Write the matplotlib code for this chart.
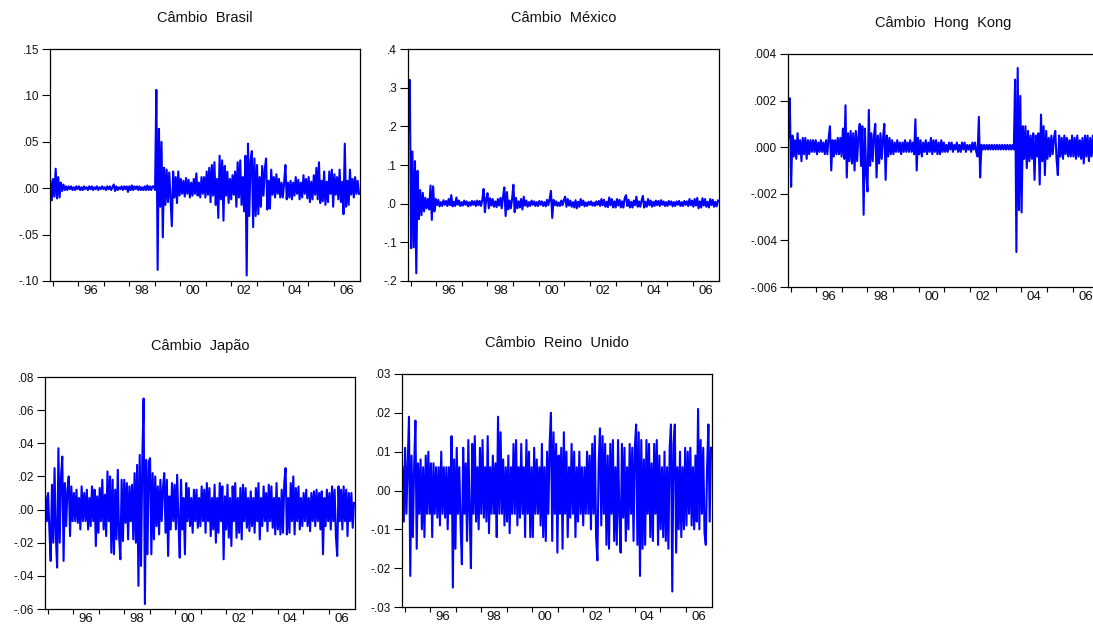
import numpy as np
import matplotlib.pyplot as plt

plt.rcParams["font.family"] = ["Liberation Sans", "DejaVu Sans"]

# daily exchange-rate returns, ~20 obs per year, end of 1994 to end of 2006
cambio_brasil = [
    0.008, -0.013, 0.010, -0.009, 0.021, -0.011, 0.012, -0.010, 0.006, -0.003, 0.004, -0.002, 0.002, -0.002, 0.002, -0.001, 0.002, -0.002, 0.001, -0.002,
    0.002, -0.001, 0.002, -0.002, 0.001, -0.002, 0.002, -0.001, 0.001, -0.002, 0.002, -0.001, 0.002, -0.002, 0.001, -0.001, 0.002, -0.002, 0.001, -0.001,
    0.002, -0.001, 0.001, -0.002, 0.002, -0.001, 0.002, -0.002, 0.001, 0.004, -0.003, 0.002, -0.002, 0.001, -0.001, 0.002, -0.002, 0.002, -0.001, 0.002,
    -0.004, 0.002, -0.002, 0.003, -0.002, 0.002, -0.001, 0.002, -0.002, 0.002, -0.002, 0.001, -0.002, 0.002, -0.002, 0.003, -0.002, 0.002, -0.002, 0.002,
    0.002, -0.002, 0.106, -0.088, 0.064, -0.020, 0.050, -0.053, 0.022, -0.018, 0.020, -0.015, 0.017, -0.012, -0.041, 0.018, -0.010, 0.012, -0.016, 0.018,
    -0.008, 0.010, -0.006, 0.008, -0.009, 0.011, -0.006, 0.009, -0.010, 0.006, -0.008, 0.010, -0.006, 0.016, -0.008, 0.006, -0.010, 0.012, -0.006, 0.012,
    -0.010, 0.018, -0.007, 0.022, -0.015, 0.025, -0.008, 0.028, -0.018, 0.010, -0.032, 0.035, -0.012, 0.030, -0.035, 0.024, -0.008, 0.018, -0.016, 0.010,
    -0.012, 0.014, -0.007, 0.018, -0.020, 0.028, -0.010, 0.030, -0.018, 0.012, -0.025, 0.035, -0.094, 0.048, -0.030, 0.030, 0.040, -0.042, 0.032, -0.030,
    0.025, -0.028, 0.012, -0.020, 0.024, -0.008, 0.020, 0.032, -0.023, 0.008, -0.022, 0.020, -0.007, 0.012, -0.010, 0.015, -0.006, 0.010, -0.010, 0.006,
    -0.010, 0.006, 0.025, -0.012, 0.006, -0.010, 0.008, -0.012, 0.006, -0.008, 0.012, -0.006, 0.009, -0.012, 0.006, -0.010, 0.014, -0.006, 0.010, -0.011,
    0.012, -0.015, 0.007, -0.012, 0.014, -0.007, 0.022, -0.012, 0.028, -0.016, 0.008, -0.014, 0.018, -0.018, 0.007, -0.015, 0.018, -0.006, 0.020, -0.020,
    0.015, -0.007, 0.012, -0.012, 0.020, -0.015, 0.007, -0.028, 0.048, -0.020, 0.008, -0.018, 0.020, -0.007, 0.010, -0.010, 0.012, -0.006, 0.008, -0.006,
]

cambio_mexico = [
    0.190, 0.320, -0.115, 0.135, -0.113, 0.110, -0.180, 0.085, -0.040, 0.035, -0.030, 0.028, -0.020, 0.015, -0.012, 0.012, -0.015, 0.047, -0.042, 0.045,
    -0.020, 0.012, -0.004, 0.010, -0.007, 0.004, -0.006, 0.009, -0.003, 0.007, -0.006, 0.012, -0.004, 0.022, -0.007, 0.005, -0.006, 0.016, -0.003, 0.008,
    -0.006, 0.004, -0.005, 0.008, -0.003, 0.006, -0.007, 0.004, -0.005, 0.007, -0.003, 0.006, -0.006, 0.008, -0.004, 0.007, -0.006, 0.010, 0.038, -0.022,
    0.012, 0.027, -0.012, 0.014, -0.005, 0.012, -0.008, 0.006, -0.009, 0.012, -0.005, 0.015, -0.012, 0.018, 0.042, -0.032, 0.030, -0.015, 0.008, -0.012,
    0.012, 0.049, -0.022, 0.015, -0.012, 0.006, -0.010, 0.012, -0.015, 0.018, -0.005, 0.008, -0.008, 0.004, -0.006, 0.008, -0.003, 0.006, -0.006, 0.004,
    -0.006, 0.007, -0.003, 0.006, -0.006, 0.004, -0.007, 0.010, -0.004, 0.012, 0.033, -0.037, 0.010, -0.004, 0.006, -0.006, 0.003, -0.006, 0.008, -0.004,
    0.010, 0.018, -0.008, 0.012, -0.005, 0.008, -0.008, 0.004, -0.010, 0.009, -0.012, 0.005, -0.008, 0.012, -0.004, 0.008, -0.007, 0.003, -0.006, 0.005,
    -0.003, 0.006, -0.005, 0.003, -0.006, 0.006, -0.003, 0.007, -0.006, 0.012, -0.004, 0.010, -0.008, 0.005, -0.009, 0.016, -0.004, 0.012, -0.010, 0.006,
    -0.010, 0.012, -0.005, 0.010, -0.010, 0.006, -0.010, 0.015, 0.022, -0.006, 0.010, -0.010, 0.005, -0.010, 0.008, -0.004, 0.018, -0.008, 0.006, -0.008,
    0.008, 0.020, -0.010, 0.005, -0.008, 0.012, -0.004, 0.008, -0.008, 0.005, -0.006, 0.008, -0.004, 0.007, -0.006, 0.009, -0.003, 0.006, -0.006, 0.004,
    -0.006, 0.007, -0.003, 0.006, -0.007, 0.004, -0.006, 0.006, -0.003, 0.007, -0.006, 0.004, -0.006, 0.007, -0.003, 0.006, -0.006, 0.012, -0.004, 0.008,
    -0.008, 0.012, -0.005, 0.015, -0.012, 0.006, -0.010, 0.014, -0.005, 0.012, -0.008, 0.005, -0.010, 0.012, -0.004, 0.010, -0.008, 0.005, -0.007, 0.008,
]

cambio_hong_kong = [
    0.0004, 0.0021, -0.0017, 0.0005, -0.0004, 0.0003, -0.0005, 0.0006, -0.0003, 0.0003, -0.0006, 0.0004, -0.0003, 0.0004, -0.0005, 0.0003, -0.0003, 0.0003, -0.0002, 0.0003,
    -0.0002, 0.0003, -0.0003, 0.0002, -0.0002, 0.0003, -0.0002, 0.0002, -0.0003, 0.0003, -0.0003, 0.0004, 0.0009, -0.0010, 0.0003, -0.0004, 0.0003, -0.0003, 0.0004, -0.0003,
    0.0004, -0.0004, 0.0008, -0.0005, 0.0018, -0.0013, 0.0006, -0.0006, 0.0007, -0.0007, 0.0006, -0.0010, 0.0007, -0.0006, 0.0005, 0.0010, -0.0008, 0.0009, -0.0029, 0.0008,
    -0.0011, -0.0019, 0.0016, -0.0008, 0.0006, -0.0006, 0.0005, 0.0010, -0.0013, 0.0005, -0.0007, 0.0006, -0.0005, 0.0004, 0.0010, -0.0014, 0.0005, -0.0004, 0.0004, -0.0003,
    0.0003, -0.0003, 0.0002, -0.0002, 0.0003, -0.0002, 0.0002, -0.0003, 0.0002, -0.0002, 0.0003, -0.0002, 0.0002, -0.0002, 0.0003, -0.0002, 0.0002, -0.0003, 0.0012, -0.0010,
    0.0004, -0.0003, 0.0003, -0.0004, 0.0002, -0.0002, 0.0003, -0.0003, 0.0002, -0.0002, 0.0004, -0.0003, 0.0003, -0.0002, 0.0003, -0.0003, 0.0002, -0.0003, 0.0003, -0.0002,
    0.0002, -0.0002, 0.0001, -0.0002, 0.0002, -0.0001, 0.0002, -0.0002, 0.0001, -0.0001, 0.0002, -0.0002, 0.0001, -0.0002, 0.0002, -0.0001, 0.0002, -0.0002, 0.0001, -0.0001,
    0.0001, -0.0002, 0.0002, -0.0001, 0.0002, -0.0002, -0.0004, 0.0013, -0.0013, 0.0001, -0.0001, 0.0001, -0.0001, 0.0001, -0.0001, 0.0001, -0.0001, 0.0001, -0.0001, 0.0001,
    -0.0001, 0.0001, -0.0001, 0.0001, -0.0001, 0.0001, -0.0001, 0.0001, -0.0001, 0.0001, -0.0001, 0.0001, -0.0001, 0.0001, -0.0001, 0.0029, -0.0045, 0.0034, -0.0027, 0.0022,
    -0.0028, 0.0009, -0.0005, 0.0009, -0.0009, 0.0007, -0.0006, 0.0005, -0.0005, 0.0006, -0.0014, 0.0005, -0.0004, 0.0006, -0.0016, 0.0014, -0.0006, 0.0009, -0.0012, 0.0007,
    -0.0005, 0.0004, -0.0004, 0.0005, -0.0003, 0.0004, 0.0007, -0.0005, -0.0012, 0.0005, -0.0004, 0.0004, -0.0005, 0.0005, -0.0003, 0.0004, -0.0004, 0.0003, -0.0004, 0.0005,
    -0.0004, 0.0004, -0.0005, 0.0005, -0.0004, 0.0003, -0.0005, 0.0004, -0.0007, 0.0005, -0.0004, 0.0005, -0.0006, 0.0004, -0.0004, 0.0005, -0.0005, 0.0004, -0.0007, 0.0005,
]

cambio_japao = [
    0.008, -0.007, 0.010, -0.012, -0.031, 0.015, -0.020, 0.025, -0.016, -0.035, 0.037, -0.020, 0.020, 0.032, -0.031, 0.016, -0.010, 0.012, 0.020, -0.016,
    0.014, -0.007, 0.010, -0.007, 0.012, -0.008, 0.007, -0.012, 0.014, -0.007, 0.010, -0.007, 0.012, -0.012, 0.007, -0.010, 0.014, -0.007, 0.012, -0.022,
    0.008, -0.014, 0.013, -0.007, 0.018, -0.012, 0.009, -0.016, 0.023, -0.007, 0.020, -0.026, 0.018, -0.027, 0.012, -0.018, 0.024, -0.016, -0.030, 0.018,
    -0.019, 0.018, -0.008, 0.016, -0.018, 0.014, -0.007, 0.015, -0.018, 0.022, -0.020, 0.027, -0.046, 0.033, -0.034, 0.030, 0.067, -0.057, 0.030, -0.027,
    0.029, 0.031, -0.027, 0.022, -0.018, 0.020, -0.010, 0.014, -0.015, 0.018, -0.007, 0.013, 0.022, -0.014, 0.018, -0.028, 0.008, -0.012, 0.016, -0.007,
    0.015, -0.012, 0.021, -0.007, -0.029, 0.018, -0.012, 0.007, -0.027, 0.016, -0.007, 0.013, -0.010, 0.007, -0.014, 0.012, -0.007, 0.012, -0.011, 0.007,
    -0.010, 0.014, -0.007, 0.012, -0.014, 0.016, -0.007, 0.013, -0.016, 0.007, -0.012, 0.015, -0.020, 0.007, -0.014, 0.016, -0.007, 0.014, -0.030, 0.008,
    -0.012, 0.015, -0.017, 0.007, -0.022, 0.014, -0.007, 0.016, -0.017, 0.007, -0.014, 0.013, -0.018, 0.015, -0.007, 0.013, -0.011, 0.007, -0.013, 0.011,
    -0.010, 0.007, -0.014, 0.013, -0.007, 0.016, -0.018, 0.007, -0.010, 0.014, -0.007, 0.010, -0.013, 0.015, -0.007, 0.014, -0.011, 0.007, -0.015, 0.016,
    -0.012, 0.007, -0.015, 0.012, -0.014, 0.016, 0.025, -0.015, 0.007, -0.014, 0.016, -0.007, 0.020, -0.015, 0.013, -0.007, 0.014, -0.012, 0.007, -0.010,
    0.010, -0.007, 0.012, -0.010, 0.007, -0.013, 0.010, -0.007, 0.011, -0.010, 0.012, -0.007, 0.010, -0.012, 0.011, -0.027, 0.007, -0.010, 0.012, -0.007,
    0.010, -0.012, 0.014, -0.007, 0.012, -0.016, -0.028, 0.014, -0.007, 0.012, -0.012, 0.014, -0.007, 0.012, -0.016, 0.010, -0.007, 0.010, -0.011, 0.004,
]

cambio_reino_unido = [
    0.006, -0.008, 0.011, -0.006, 0.007, 0.019, -0.022, 0.009, -0.012, 0.006, 0.018, -0.015, 0.007, -0.006, 0.008, -0.010, 0.006, -0.012, 0.009, -0.006,
    0.010, -0.006, 0.007, -0.012, 0.007, -0.006, 0.006, -0.007, 0.006, -0.009, 0.010, -0.006, 0.006, -0.007, 0.006, -0.010, 0.006, -0.006, 0.014, -0.025,
    0.008, -0.015, 0.011, -0.006, 0.006, -0.009, -0.019, 0.011, -0.006, 0.007, -0.013, 0.013, -0.006, -0.020, 0.012, -0.006, 0.014, -0.008, 0.006, -0.010,
    0.011, -0.006, 0.013, -0.007, 0.006, -0.008, 0.014, -0.011, 0.006, -0.006, 0.009, -0.006, 0.007, -0.012, 0.019, -0.006, 0.015, -0.006, 0.008, -0.009,
    0.006, -0.008, 0.009, -0.011, 0.006, -0.006, 0.012, -0.006, 0.013, -0.009, 0.006, -0.007, 0.012, -0.006, 0.006, -0.012, 0.013, -0.006, 0.010, -0.012,
    0.006, -0.012, 0.011, -0.006, 0.008, -0.006, 0.006, -0.009, 0.012, -0.012, 0.006, -0.013, 0.010, -0.006, 0.012, 0.020, -0.013, 0.015, -0.006, 0.012,
    -0.016, 0.009, -0.006, 0.011, -0.015, 0.015, -0.006, 0.010, -0.012, 0.006, -0.007, 0.012, -0.006, 0.010, -0.012, 0.006, -0.008, 0.010, -0.006, 0.006,
    -0.009, 0.006, -0.006, 0.010, -0.006, 0.009, -0.010, 0.012, -0.006, 0.014, -0.012, -0.018, 0.007, 0.016, -0.009, 0.014, -0.006, 0.012, -0.014, 0.009,
    -0.015, 0.012, -0.006, 0.013, -0.013, 0.006, -0.014, 0.013, -0.006, -0.016, 0.012, -0.007, 0.011, -0.013, 0.006, -0.010, 0.012, -0.006, 0.011, -0.013,
    0.011, 0.017, -0.014, 0.015, -0.022, 0.013, -0.015, 0.008, -0.014, 0.013, -0.006, 0.012, -0.012, 0.007, -0.013, 0.012, -0.006, 0.013, -0.014, 0.009,
    -0.010, 0.006, -0.012, 0.010, -0.013, 0.006, -0.015, 0.011, 0.017, -0.026, 0.012, 0.017, -0.016, 0.006, -0.010, 0.010, -0.012, 0.006, -0.010, 0.011,
    -0.009, 0.010, -0.006, 0.011, -0.009, 0.006, -0.010, 0.009, -0.008, 0.021, -0.010, 0.013, -0.006, 0.011, -0.011, -0.014, 0.006, 0.017, -0.008, 0.011,
]

brasil_yticks = [-0.10, -0.05, 0.00, 0.05, 0.10, 0.15]
mexico_yticks = [-0.2, -0.1, 0.0, 0.1, 0.2, 0.3, 0.4]
hong_kong_yticks = [-0.006, -0.004, -0.002, 0.000, 0.002, 0.004]
japao_yticks = [-0.06, -0.04, -0.02, 0.00, 0.02, 0.04, 0.06, 0.08]
reino_unido_yticks = [-0.03, -0.02, -0.01, 0.00, 0.01, 0.02, 0.03]

year_ticks = list(range(1995, 2007))
label_years = [1996, 1998, 2000, 2002, 2004, 2006]
first_obs, last_obs = 1994.92, 2006.99

W, H = 1093, 629


def eviews_label(v, dec):
    # EViews drops the leading zero: .05, -.10
    return f"{v:.{dec}f}".replace("0.", ".", 1)


def panel(fig, box, title, values, yticks, dec):
    left, top, right, bottom = box
    ax = fig.add_axes([left / W, 1 - bottom / H, (right - left) / W, (bottom - top) / H])
    t = np.linspace(first_obs, last_obs, len(values))
    ax.plot(t, values, color="#0000ff", lw=1.5)

    ax.set_xlim(1994.9, 2007.03)
    ax.set_ylim(yticks[0], yticks[-1])

    # tick marks on year boundaries, two-digit labels centred in the year
    ax.set_xticks(year_ticks)
    ax.set_xticklabels([])
    ax.set_xticks([y + 0.5 for y in label_years], minor=True)
    ax.set_xticklabels([f"{y % 100:02d}" for y in label_years], minor=True)
    ax.tick_params(axis="x", which="major", direction="out", length=3.8, width=0.8, color="black")
    ax.tick_params(axis="x", which="minor", length=0, pad=3, labelsize=9.5, labelcolor="#111111")

    ax.set_yticks(yticks)
    ax.set_yticklabels([eviews_label(v, dec) for v in yticks])
    ax.tick_params(axis="y", direction="out", length=5.8, width=0.8, pad=2, labelsize=8.5,
                   labelcolor="#111111", color="black")

    for s in ax.spines.values():
        s.set_linewidth(0.9)
        s.set_color("black")

    ax.text(0.5, 1 + 31 / (bottom - top), title, transform=ax.transAxes,
            ha="center", va="center", fontsize=10.5, color="#111111")
    return ax


def main():
    fig = plt.figure(figsize=(W / 100, H / 100), dpi=100)

    panel(fig, (50, 49, 360, 281), "Câmbio  Brasil", cambio_brasil, brasil_yticks, 2)
    panel(fig, (408, 49, 719, 281), "Câmbio  México", cambio_mexico, mexico_yticks, 1)
    panel(fig, (788, 54, 1099, 287), "Câmbio  Hong  Kong", cambio_hong_kong, hong_kong_yticks, 3)
    panel(fig, (45, 377, 355, 609), "Câmbio  Japão", cambio_japao, japao_yticks, 2)
    panel(fig, (402, 374, 712, 607), "Câmbio  Reino  Unido", cambio_reino_unido, reino_unido_yticks, 2)

    fig.savefig("out.png", dpi=100)
    plt.close(fig)


if __name__ == "__main__":
    main()
